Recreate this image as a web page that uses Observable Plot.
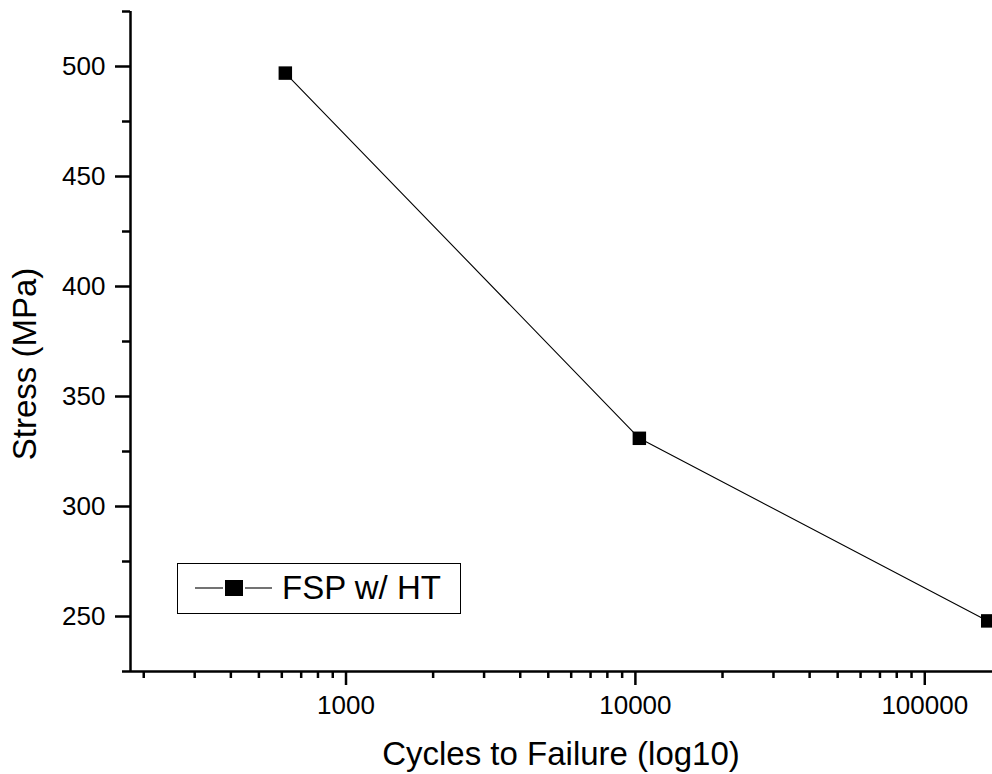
<!DOCTYPE html>
<html>
<head>
<meta charset="utf-8">
<script src="https://cdn.jsdelivr.net/npm/d3@7"></script>
<script src="https://cdn.jsdelivr.net/npm/@observablehq/plot@0.6"></script>
<style>
  html, body { margin: 0; padding: 0; background: #fff; overflow: hidden; }
  #chart { width: 992px; height: 774px; }
</style>
</head>
<body>
<div id="chart"></div>
<script>
// ---- data ----
const cycles = [617, 10320, 165000];
const stress = [497, 331, 248];
const seriesName = "FSP w/ HT";

// ---- axis ticks ----
const xMajorTicks = [1000, 10000, 100000];
const xMinorTicks = [200, 300, 400, 500, 600, 700, 800, 900,
                     2000, 3000, 4000, 5000, 6000, 7000, 8000, 9000,
                     20000, 30000, 40000, 50000, 60000, 70000, 80000, 90000];
const yMajorTicks = [250, 300, 350, 400, 450, 500];
const yMinorTicks = [225, 275, 325, 375, 425, 475, 525];
const xTitle = "Cycles to Failure (log10)";
const yTitle = "Stress (MPa)";

const data = cycles.map((c, i) => ({cycles: c, stress: stress[i]}));

const font = "'Liberation Sans', Arial, Helvetica, sans-serif";

const plot = Plot.plot({
  width: 992,
  height: 774,
  marginLeft: 130,
  marginRight: 0,
  marginTop: 11,
  marginBottom: 103,
  style: {fontFamily: font, color: "#000", background: "#fff"},
  x: {type: "log", domain: [180, 171400]},
  y: {domain: [225, 525]},
  marks: [
    Plot.axisX({ticks: xMajorTicks, tickFormat: d3.format("d"), tickSize: 14, tickPadding: 10,
                fontSize: 26, strokeWidth: 2.5, stroke: "#000", label: null}),
    Plot.axisX({ticks: xMinorTicks, tickFormat: () => "", tickSize: 7, strokeWidth: 2.5,
                stroke: "#000", label: null}),
    Plot.axisY({ticks: yMajorTicks, tickSize: 15, tickPadding: 10, fontSize: 26,
                strokeWidth: 2.5, stroke: "#000", label: null}),
    Plot.axisY({ticks: yMinorTicks, tickFormat: () => "", tickSize: 8, strokeWidth: 2.5,
                stroke: "#000", label: null}),
    Plot.ruleX([180], {stroke: "#000", strokeWidth: 2.5}),
    Plot.ruleY([225], {stroke: "#000", strokeWidth: 2.5}),
    Plot.line(data, {x: "cycles", y: "stress", stroke: "#000", strokeWidth: 1.1}),
    Plot.dot(data, {x: "cycles", y: "stress", symbol: "square", r: 7.6, fill: "#000", stroke: "none"})
  ]
});

const svg = d3.select(plot);

// axis titles
svg.append("text")
  .attr("x", 561).attr("y", 765)
  .attr("text-anchor", "middle")
  .attr("font-size", 33)
  .attr("font-family", font)
  .attr("fill", "#000")
  .text(xTitle);

svg.append("text")
  .attr("transform", "translate(36,364) rotate(-90)")
  .attr("text-anchor", "middle")
  .attr("font-size", 33)
  .attr("font-family", font)
  .attr("fill", "#000")
  .text(yTitle);

// legend
const lg = svg.append("g").attr("class", "legend");
lg.append("rect")
  .attr("x", 177.5).attr("y", 563.5).attr("width", 283).attr("height", 50)
  .attr("fill", "#fff").attr("stroke", "#000").attr("stroke-width", 1);
lg.append("line")
  .attr("x1", 195).attr("x2", 223).attr("y1", 588).attr("y2", 588)
  .attr("stroke", "#000").attr("stroke-width", 1.1);
lg.append("line")
  .attr("x1", 245).attr("x2", 272).attr("y1", 588).attr("y2", 588)
  .attr("stroke", "#000").attr("stroke-width", 1.1);
lg.append("rect")
  .attr("x", 225).attr("y", 580).attr("width", 18).attr("height", 16)
  .attr("fill", "#000");
lg.append("text")
  .attr("x", 282).attr("y", 599)
  .attr("text-anchor", "start")
  .attr("font-size", 33)
  .attr("font-family", font)
  .attr("fill", "#000")
  .text(seriesName);

document.getElementById("chart").appendChild(plot);
</script>
</body>
</html>
